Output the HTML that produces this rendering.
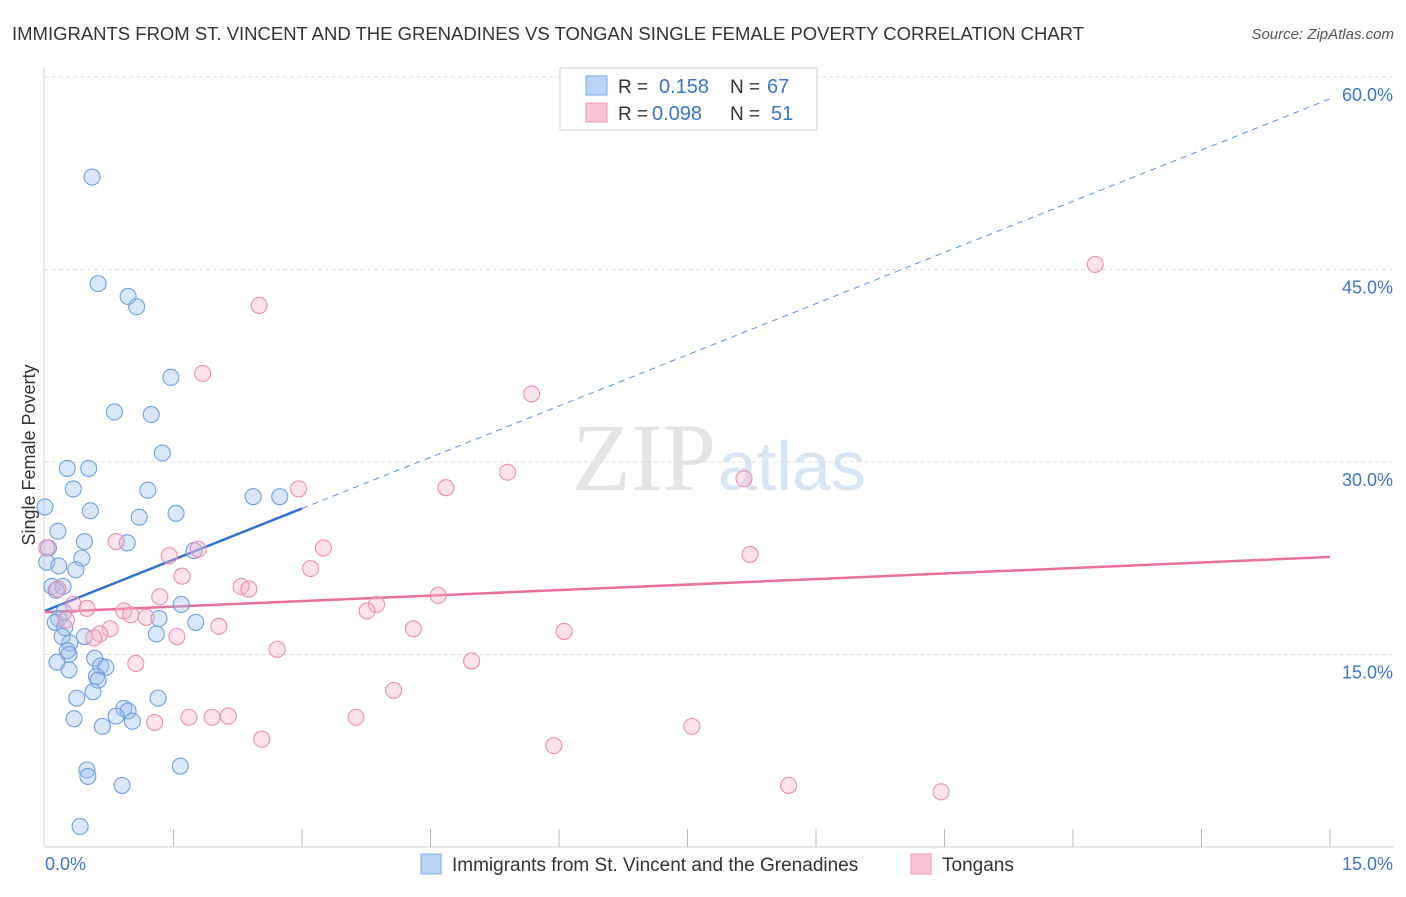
<!DOCTYPE html>
<html><head><meta charset="utf-8"><style>
body{margin:0;background:#fff;font-family:"Liberation Sans",sans-serif}
svg text{font-family:"Liberation Sans",sans-serif}
</style></head><body>
<svg width="1406" height="892" xmlns="http://www.w3.org/2000/svg">
<text x="12" y="40" font-size="18" fill="#333" textLength="1072" lengthAdjust="spacingAndGlyphs">IMMIGRANTS FROM ST. VINCENT AND THE GRENADINES VS TONGAN SINGLE FEMALE POVERTY CORRELATION CHART</text>
<text x="1394" y="39" font-size="15" fill="#555" font-style="italic" text-anchor="end">Source: ZipAtlas.com</text>
<text x="716" y="490" font-size="96" fill="#e4e4e4" text-anchor="end" style="font-family:'Liberation Serif',serif">ZIP</text>
<text x="718" y="490" font-size="70" fill="#d8e5f5">atlas</text>
<g id="grid"></g>
<g id="axes"></g>
<g id="lines"></g>
<g id="pts"></g>
<text x="35" y="455" font-size="18" fill="#333" text-anchor="middle" transform="rotate(-90 35 455)">Single Female Poverty</text>
<g>
<rect x="560" y="68" width="257" height="62" fill="#fff" stroke="#ccc"/>
<rect x="586" y="76" width="21" height="19" fill="#b8d3f5" stroke="#7fa9e3"/>
<rect x="586" y="103" width="21" height="19" fill="#f8c3d4" stroke="#ee9ab7"/>
<text x="618" y="93" font-size="19" fill="#333">R =</text><text x="659" y="93" font-size="20" fill="#3a75d0">0.158</text>
<text x="730" y="93" font-size="19" fill="#333">N =</text><text x="767" y="93" font-size="20" fill="#3a75d0">67</text>
<text x="618" y="120" font-size="19" fill="#333">R =</text><text x="652" y="120" font-size="20" fill="#3a75d0">0.098</text>
<text x="730" y="120" font-size="19" fill="#333">N =</text><text x="771" y="120" font-size="20" fill="#3a75d0">51</text>
</g>
<g>
<rect x="421" y="854" width="20" height="20" fill="#b8d3f5" stroke="#7fa9e3"/>
<text x="452" y="871" font-size="19" fill="#333">Immigrants from St. Vincent and the Grenadines</text>
<rect x="911" y="854" width="20" height="20" fill="#f8c3d4" stroke="#ee9ab7"/>
<text x="942" y="871" font-size="19" fill="#333">Tongans</text>
</g>
</svg>
<script>
const yTicks=[15,30,45,60];
const yTickLabels=["15.0%","30.0%","45.0%","60.0%"];
const xTickLabels=["0.0%","15.0%"];
const blueX=[0.55,0.62,0.97,1.07,1.47,0.81,1.24,1.37,0.26,0.51,0.33,1.20,2.43,2.74,0,0.53,1.10,1.53,0.15,0.46,0.96,1.74,0.04,0.43,0.02,0.16,0.36,0.08,0.21,0.13,1.59,0.22,0.16,0.12,1.33,1.76,0.23,0.20,1.30,0.46,0.29,0.26,0.28,0.58,0.14,0.65,0.71,0.28,0.60,0.62,0.56,0.37,1.32,0.92,0.97,0.83,0.34,1.02,0.67,1.58,0.49,0.50,0.90,0.41];
const blueY=[52.2,43.9,42.9,42.1,36.6,33.9,33.7,30.7,29.5,29.5,27.9,27.8,27.3,27.3,26.5,26.2,25.7,26.0,24.6,23.8,23.7,23.1,23.3,22.5,22.2,21.9,21.6,20.3,20.3,20.0,18.9,18.3,17.8,17.5,17.8,17.5,17.1,16.4,16.6,16.4,15.9,15.3,15.0,14.7,14.4,14.1,14.0,13.8,13.3,13.0,12.1,11.6,11.6,10.8,10.6,10.2,10.0,9.8,9.4,6.3,6.0,5.5,4.8,1.6];
const pinkX=[12.26,2.50,1.84,5.68,5.40,8.16,4.68,2.96,0.02,0.83,1.79,3.25,1.45,8.23,3.10,1.60,2.29,2.38,0.15,4.59,1.34,3.87,0.33,0.49,3.76,0.92,1.00,1.18,0.25,2.03,0.76,4.30,6.06,0.64,1.54,0.57,2.71,4.98,1.06,4.07,1.68,1.95,2.14,1.28,3.63,7.55,2.53,5.94,8.68,10.46];
const pinkY=[45.4,42.2,36.9,35.3,29.2,28.7,28.0,27.9,23.3,23.8,23.2,23.3,22.7,22.8,21.7,21.1,20.3,20.1,20.1,19.6,19.5,18.9,18.9,18.6,18.4,18.4,18.1,17.9,17.7,17.2,17.0,17.0,16.8,16.6,16.4,16.3,15.4,14.5,14.3,12.2,10.1,10.1,10.2,9.7,10.1,9.4,8.4,7.9,4.8,4.3];
const blueTrend=[18.4,58.3];
const blueSolidEnd=3.0;
const pinkTrend=[18.3,22.6];
const X=v=>45+v*(1285/15), Y=v=>847-v*(192.5/15);
const NS="http://www.w3.org/2000/svg";
function mk(p,t,a){const e=document.createElementNS(NS,t);for(const k in a)e.setAttribute(k,a[k]);document.getElementById(p).appendChild(e);return e;}
yTicks.forEach((t,i)=>{
 const g=mk('grid','line',{x1:45,x2:1394,y1:Y(t),y2:Y(t),stroke:'#ddd','stroke-dasharray':'4,3'});
 
 
 const l=mk('axes','text',{x:1393,y:Y(t)+24,'font-size':18,fill:'#3a75d0','text-anchor':'end'});
 l.textContent=yTickLabels[i];
 
 
});
const ax=mk('axes','line',{x1:45,x2:1394,y1:847,y2:847,stroke:'#ccc'});


const ay=mk('axes','line',{x1:44,x2:44,y1:68,y2:847,stroke:'#ccc'});


for(let i=1;i<=10;i++){const t=mk('axes','line',{x1:X(i*1.5),x2:X(i*1.5),y1:829,y2:847,stroke:'#bbb'});
 
 }
[[0,45,'start'],[15,1393,'end']].forEach((d,i)=>{const t=mk('axes','text',{x:d[1],y:870,'font-size':18,fill:'#3a75d0','text-anchor':d[2]});t.textContent=xTickLabels[i];
 
 });
const bY=x=>blueTrend[0]+(blueTrend[1]-blueTrend[0])*x/15;
function pts(xs,ys,fill,stroke,name){xs.forEach((x,i)=>{const c=mk('pts','circle',{cx:X(x),cy:Y(ys[i]),r:8,fill:fill,'fill-opacity':0.38,stroke:stroke,'stroke-width':1.1});
 
 });}
pts(blueX,blueY,'#9dc0ee','#6f9fe0','blue-point');
pts(pinkX,pinkY,'#f6b3c9','#ec8db0','pink-point');
const l1=mk('lines','line',{x1:X(0),y1:Y(bY(0)),x2:X(blueSolidEnd),y2:Y(bY(blueSolidEnd)),stroke:'#2f6fd6','stroke-width':2.5});


const l2=mk('lines','line',{x1:X(blueSolidEnd),y1:Y(bY(blueSolidEnd)),x2:X(15),y2:Y(bY(15)),stroke:'#5b8fe0','stroke-width':1,'stroke-dasharray':'6,5'});


const l3=mk('lines','line',{x1:X(0),y1:Y(pinkTrend[0]),x2:X(15),y2:Y(pinkTrend[1]),stroke:'#e8709b','stroke-width':2.5});


</script>
</body></html>
